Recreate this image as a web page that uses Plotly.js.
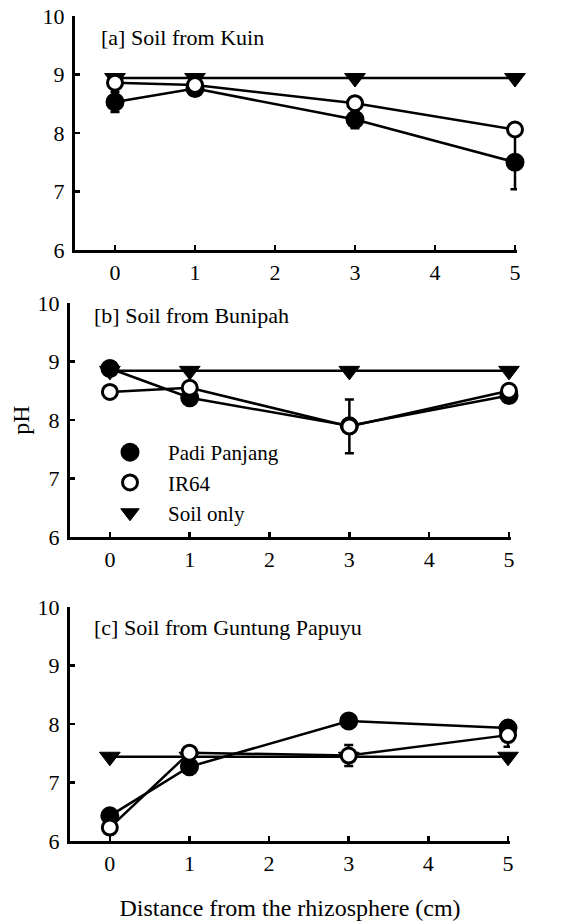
<!DOCTYPE html>
<html>
<head>
<meta charset="utf-8">
<script src="https://cdn.plot.ly/plotly-3.0.1.min.js"></script>
<style>
  html, body { margin: 0; padding: 0; background: #fff; }
  #chart { width: 572px; height: 923px; }
</style>
</head>
<body>
<div id="chart"></div>
<script>
// Distance from the rhizosphere (cm)
const distance = [0, 1, 3, 5];

// [a] Soil from Kuin
const kuinPadi = [8.53, 8.76, 8.23, 7.50];
const kuinPadiErr = [0.17, 0.05, 0.15, 0.46];
const kuinIR64 = [8.86, 8.82, 8.51, 8.06];
const kuinIR64Err = [0.05, 0.05, 0.05, 0.05];
const kuinSoil = [8.94, 8.94, 8.94, 8.94];

// [b] Soil from Bunipah
const bunipahPadi = [8.88, 8.38, 7.90, 8.42];
const bunipahPadiErr = [0.05, 0.05, 0.05, 0.05];
const bunipahIR64 = [8.48, 8.55, 7.89, 8.50];
const bunipahIR64Err = [0.05, 0.05, 0.46, 0.05];
const bunipahSoil = [8.84, 8.84, 8.84, 8.84];

// [c] Soil from Guntung Papuyu
const guntungPadi = [6.43, 7.27, 8.05, 7.93];
const guntungPadiErr = [0.05, 0.05, 0.05, 0.05];
const guntungIR64 = [6.23, 7.51, 7.46, 7.81];
const guntungIR64Err = [0.05, 0.05, 0.18, 0.20];
const guntungSoil = [7.44, 7.44, 7.44, 7.44];

const panelTitles = ['[a] Soil from Kuin', '[b] Soil from Bunipah', '[c] Soil from Guntung Papuyu'];
const seriesNames = ['Padi Panjang', 'IR64', 'Soil only'];

const FONT = '"Liberation Serif", "Times New Roman", Times, serif';
const W = 572, H = 923;

const panels = [
  { padi: kuinPadi, padiErr: kuinPadiErr, ir: kuinIR64, irErr: kuinIR64Err, soil: kuinSoil },
  { padi: bunipahPadi, padiErr: bunipahPadiErr, ir: bunipahIR64, irErr: bunipahIR64Err, soil: bunipahSoil },
  { padi: guntungPadi, padiErr: guntungPadiErr, ir: guntungIR64, irErr: guntungIR64Err, soil: guntungSoil }
];

const errStyle = (arr) => ({ type: 'data', array: arr, visible: true, color: '#000', thickness: 2.5, width: 4.5 });

const markerStyles = {
  soil: { symbol: 'triangle-down', size: 18, color: '#000', line: { color: '#000', width: 1 } },
  padi: { symbol: 'circle', size: 16, color: '#000', line: { color: '#000', width: 3 } },
  ir64: { symbol: 'circle', size: 15, color: '#fff', line: { color: '#000', width: 3 } }
};

const traces = [];
panels.forEach((p, i) => {
  const xa = i === 0 ? 'x' : 'x' + (i + 1);
  const ya = i === 0 ? 'y' : 'y' + (i + 1);
  const showLeg = i === 1;
  const series = [
    { key: 'soil', name: seriesNames[2], y: p.soil, err: null, rank: 3 },
    { key: 'padi', name: seriesNames[0], y: p.padi, err: p.padiErr, rank: 1 },
    { key: 'ir64', name: seriesNames[1], y: p.ir, err: p.irErr, rank: 2 }
  ];
  // connecting lines underneath
  series.forEach(s => traces.push({
    x: distance, y: s.y, xaxis: xa, yaxis: ya, type: 'scatter', mode: 'lines',
    name: s.name, showlegend: false, hoverinfo: 'skip',
    line: { color: '#000', width: 2.5 }
  }));
  // symbols with error bars on top
  series.forEach(s => {
    const t = {
      x: distance, y: s.y, xaxis: xa, yaxis: ya, type: 'scatter', mode: 'markers',
      name: s.name, legendrank: s.rank, showlegend: showLeg, cliponaxis: false,
      marker: markerStyles[s.key]
    };
    if (s.err) t.error_y = errStyle(s.err);
    traces.push(t);
  });
});

// plot areas in pixels: [left, right, top, bottom]
const boxes = [
  [75, 517, 16, 250],
  [70, 511, 303, 537],
  [70, 510, 607, 841]
];

function xAxis(box) {
  return {
    domain: [box[0] / W, box[1] / W], range: [-0.5, 5.025],
    showline: true, linecolor: '#000', linewidth: 3, mirror: false,
    showgrid: false, zeroline: false,
    ticks: 'inside', ticklen: 5, tickwidth: 2.5, tickcolor: '#000',
    tickmode: 'linear', tick0: 0, dtick: 1, ticklabelstandoff: 1,
    tickfont: { family: FONT, size: 22, color: '#000' }
  };
}
function yAxis(box) {
  return {
    domain: [1 - box[3] / H, 1 - box[2] / H], range: [6, 10],
    showline: true, linecolor: '#000', linewidth: 3,
    showgrid: false, zeroline: false,
    ticks: 'inside', ticklen: 5, tickwidth: 2.5, tickcolor: '#000',
    tickmode: 'linear', tick0: 6, dtick: 1, ticklabelstandoff: 3,
    tickfont: { family: FONT, size: 22, color: '#000' }
  };
}

const layout = {
  width: W, height: H,
  margin: { l: 0, r: 0, t: 0, b: 0 },
  paper_bgcolor: '#fff', plot_bgcolor: 'rgba(0,0,0,0)',
  font: { family: FONT, color: '#000' },
  showlegend: true,
  legend: {
    x: 92 / W, y: 1 - 432 / H, xanchor: 'left', yanchor: 'top',
    bgcolor: 'rgba(0,0,0,0)', borderwidth: 0, itemwidth: 66,
    traceorder: 'normal',
    font: { family: FONT, size: 21, color: '#000' }
  },
  xaxis: xAxis(boxes[0]), yaxis: yAxis(boxes[0]),
  xaxis2: Object.assign(xAxis(boxes[1]), { anchor: 'y2' }),
  yaxis2: Object.assign(yAxis(boxes[1]), { anchor: 'x2',
    title: { text: 'pH', font: { family: FONT, size: 24, color: '#000' }, standoff: 2 } }),
  xaxis3: Object.assign(xAxis(boxes[2]), { anchor: 'y3',
    title: { text: 'Distance from the rhizosphere (cm)', font: { family: FONT, size: 24, color: '#000' }, standoff: 24 } }),
  yaxis3: Object.assign(yAxis(boxes[2]), { anchor: 'x3' }),
  annotations: [
    { text: panelTitles[0], x: 99 / W, y: 1 - 37 / H },
    { text: panelTitles[1], x: 92 / W, y: 1 - 315 / H },
    { text: panelTitles[2], x: 92 / W, y: 1 - 627 / H }
  ].map(a => Object.assign(a, {
    xref: 'paper', yref: 'paper', xanchor: 'left', yanchor: 'middle', showarrow: false,
    font: { family: FONT, size: 22, color: '#000' }
  }))
};
layout.xaxis.anchor = 'y';
layout.yaxis.anchor = 'x';

Plotly.newPlot('chart', traces, layout, { displayModeBar: false, staticPlot: true });
</script>
</body>
</html>
